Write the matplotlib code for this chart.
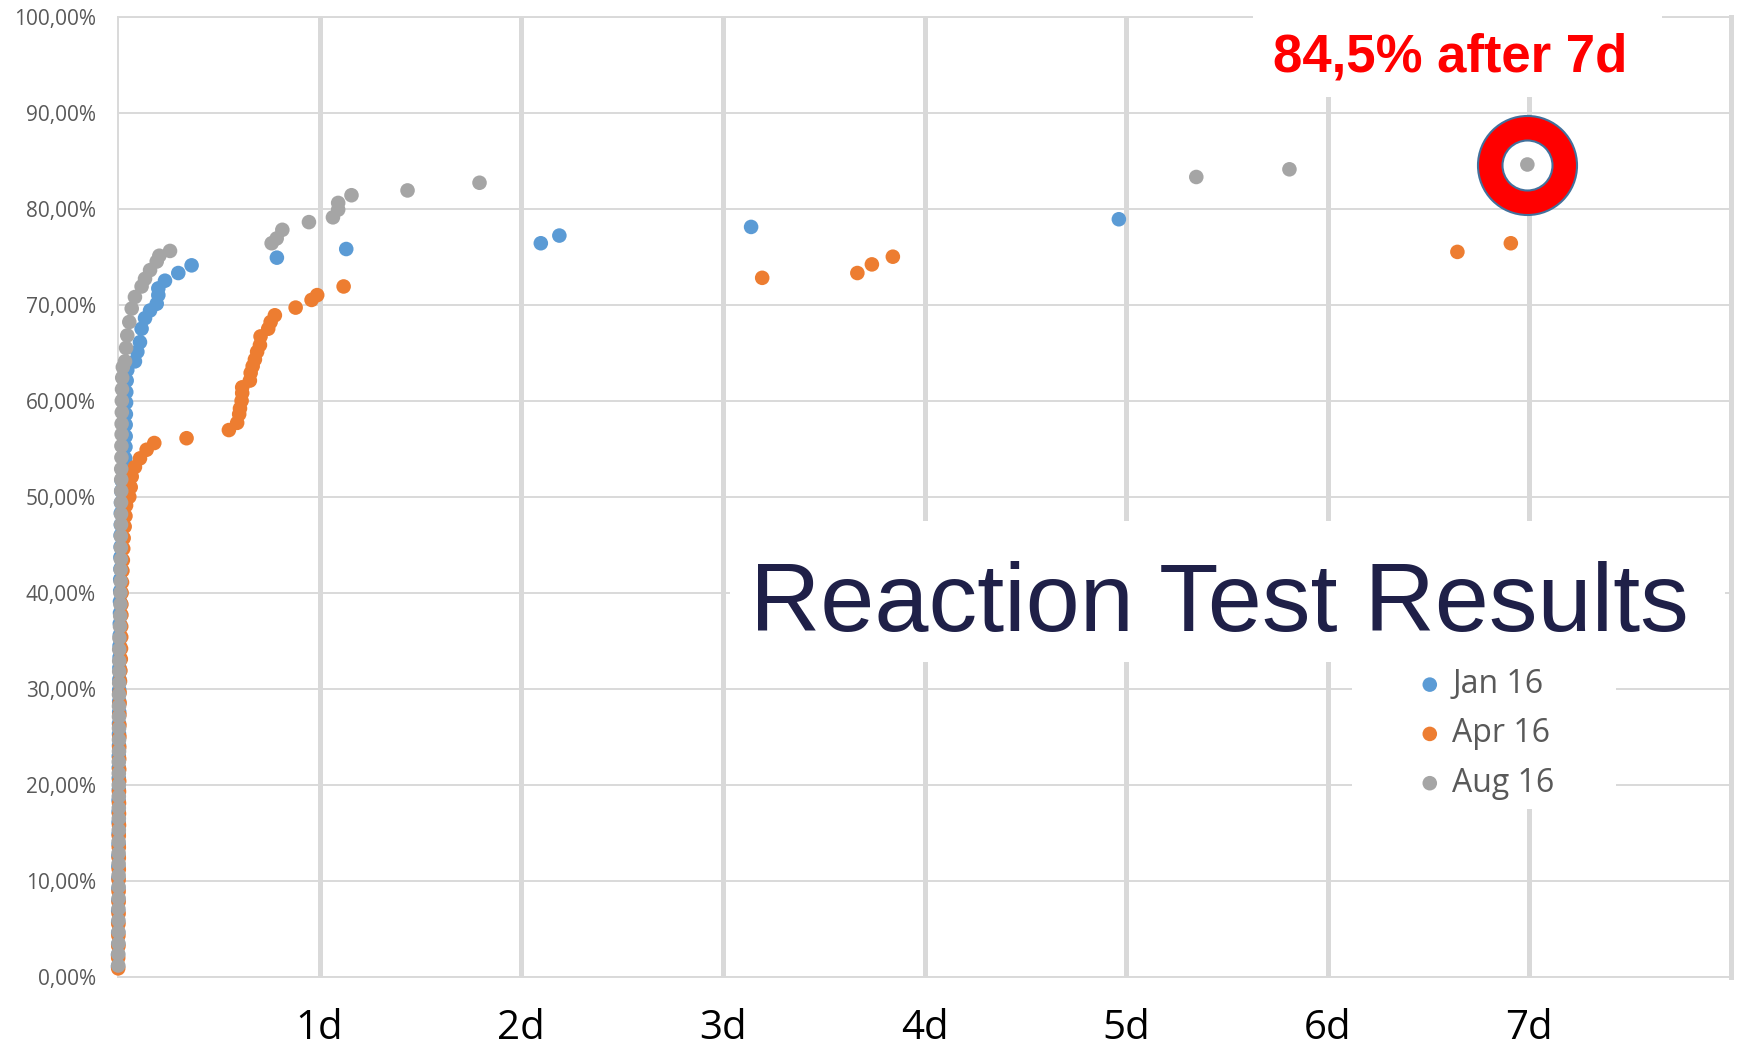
import matplotlib
matplotlib.use('Agg')
import matplotlib.pyplot as plt
from matplotlib.patches import Rectangle

# values: x in days, y in percent
jan_x = [0.000, 0.000, 0.001, 0.001, 0.001, 0.001, 0.002, 0.002, 0.002, 0.002,
         0.002, 0.003, 0.003, 0.003, 0.003, 0.003, 0.004, 0.004, 0.004, 0.004,
         0.005, 0.005, 0.005, 0.006, 0.006, 0.006, 0.007, 0.007, 0.008, 0.008,
         0.009, 0.009, 0.010, 0.010, 0.011, 0.011, 0.012, 0.012, 0.013, 0.013,
         0.014, 0.014, 0.015, 0.016, 0.018, 0.022,
         0.036, 0.037, 0.038, 0.038, 0.039, 0.040, 0.041, 0.043, 0.046,
         0.084, 0.096, 0.109, 0.117, 0.134, 0.159, 0.192, 0.200, 0.200, 0.233, 0.299, 0.365,
         0.788, 1.132, 2.097, 2.189, 3.140, 4.964]
jan_y = [1.1, 2.3, 3.4, 4.6, 5.7, 6.9, 8.0, 9.2, 10.3, 11.5,
         12.6, 13.8, 14.9, 16.1, 17.2, 18.4, 19.5, 20.7, 21.8, 23.0,
         24.1, 25.3, 26.4, 27.6, 28.7, 29.9, 31.0, 32.2, 33.3, 34.5,
         35.6, 36.8, 37.9, 39.1, 40.2, 41.4, 42.5, 43.7, 44.8, 46.0,
         47.1, 48.3, 49.4, 50.6, 51.7, 52.9,
         54.0, 55.2, 56.3, 57.5, 58.6, 59.8, 60.9, 62.1, 63.2,
         64.1, 65.1, 66.1, 67.5, 68.6, 69.4, 70.1, 71.0, 71.7, 72.5, 73.3, 74.1,
         74.9, 75.8, 76.4, 77.2, 78.1, 78.9]

apr_x = [0.001, 0.001, 0.002, 0.002, 0.002, 0.003, 0.003, 0.003, 0.003, 0.004,
         0.004, 0.004, 0.004, 0.005, 0.005, 0.005, 0.005, 0.006, 0.006, 0.006,
         0.006, 0.007, 0.007, 0.007, 0.008, 0.008, 0.010, 0.012, 0.014, 0.015,
         0.016, 0.016, 0.017, 0.017, 0.018, 0.020, 0.022, 0.024, 0.026, 0.028,
         0.033, 0.037, 0.040,
         0.056, 0.063, 0.068, 0.084, 0.109, 0.142, 0.180, 0.340,
         0.550, 0.591, 0.601, 0.605, 0.613, 0.616, 0.616, 0.654, 0.658, 0.668,
         0.679, 0.690, 0.704, 0.707, 0.745, 0.757, 0.778, 0.881, 0.960, 0.988, 1.119,
         3.195, 3.667, 3.739, 3.843, 6.643, 6.908]
apr_y = [0.9, 2.0, 3.2, 4.3, 5.5, 6.6, 7.8, 8.9, 10.1, 11.2,
         12.4, 13.5, 14.7, 15.8, 17.0, 18.1, 19.3, 20.4, 21.6, 22.7,
         23.9, 25.0, 26.2, 27.3, 28.5, 29.6, 30.8, 31.9, 33.1, 34.2,
         35.4, 36.5, 37.7, 38.8, 40.0, 41.1, 42.3, 43.4, 44.6, 45.7,
         46.9, 48.0, 49.1,
         50.0, 51.0, 52.1, 53.1, 54.0, 54.9, 55.6, 56.1,
         56.95, 57.7, 58.6, 59.2, 60.0, 60.8, 61.4, 62.1, 62.9, 63.6,
         64.3, 65.1, 65.8, 66.7, 67.5, 68.2, 68.9, 69.7, 70.5, 71.0, 71.9,
         72.8, 73.3, 74.2, 75.0, 75.5, 76.4]

aug_x = [0.001, 0.001, 0.002, 0.002, 0.002, 0.002, 0.003, 0.003, 0.003, 0.003,
         0.003, 0.003, 0.004, 0.004, 0.004, 0.004, 0.004, 0.004, 0.004, 0.005,
         0.005, 0.005, 0.005, 0.005, 0.005, 0.006, 0.006, 0.006, 0.006, 0.007,
         0.010, 0.011, 0.012, 0.012, 0.013, 0.013, 0.014, 0.014, 0.014, 0.015,
         0.015, 0.015, 0.016, 0.016, 0.016, 0.017, 0.017, 0.018, 0.018, 0.019,
         0.019, 0.020, 0.021, 0.024,
         0.035, 0.040, 0.046, 0.056, 0.068, 0.084, 0.117, 0.134, 0.159, 0.192, 0.205, 0.258,
         0.762, 0.787, 0.815, 0.947, 1.066, 1.092, 1.092, 1.158, 1.436, 1.793, 5.348, 5.810, 6.990]
aug_y = [1.2, 2.4, 3.5, 4.7, 5.9, 7.1, 8.2, 9.4, 10.6, 11.8,
         12.9, 14.1, 15.3, 16.5, 17.6, 18.8, 20.0, 21.2, 22.4, 23.5,
         24.7, 25.9, 27.1, 28.2, 29.4, 30.6, 31.8, 32.9, 34.1, 35.3,
         36.5, 37.6, 38.8, 40.0, 41.2, 42.4, 43.5, 44.7, 45.9, 47.1,
         48.2, 49.4, 50.6, 51.8, 52.9, 54.1, 55.3, 56.5, 57.6, 58.8,
         60.0, 61.2, 62.4, 63.5,
         64.1, 65.5, 66.8, 68.2, 69.6, 70.8, 71.9, 72.7, 73.6, 74.5, 75.1, 75.6,
         76.4, 76.9, 77.8, 78.6, 79.1, 79.9, 80.6, 81.4, 81.9, 82.7, 83.3, 84.1, 84.6]

series_names = ['Jan 16', 'Apr 16', 'Aug 16']
series_colors = ['#5b9bd5', '#ed7d31', '#a5a5a5']
day_ticks = [1, 2, 3, 4, 5, 6, 7]
day_labels = ['1d', '2d', '3d', '4d', '5d', '6d', '7d']
pct_ticks = [0, 10, 20, 30, 40, 50, 60, 70, 80, 90, 100]

W, H = 1738, 1051
fig = plt.figure(figsize=(W / 100, H / 100), dpi=100)
ax = fig.add_axes([118 / W, 1 - 977 / H, (1731 - 118) / W, (977 - 16.6) / H])

grid_c = '#d9d9d9'
for (xs, ys), name, c in zip([(jan_x, jan_y), (apr_x, apr_y), (aug_x, aug_y)],
                             series_names, series_colors):
    ax.scatter(xs, ys, s=110, color=c, edgecolors='none', label=name, zorder=5,
               clip_on=False)

ax.set_xlim(0, 8)
ax.set_ylim(0, 100)
ax.set_xticks(day_ticks)
ax.set_xticklabels(day_labels, fontsize=29, family='Open Sans', color='black')
ax.set_yticks(pct_ticks)
ax.set_yticklabels([('%.2f%%' % v).replace('.', ',') for v in pct_ticks],
                   fontsize=15, family='Open Sans', color='#595959')
ax.tick_params(length=0)
ax.tick_params(axis='y', pad=16)
ax.tick_params(axis='x', pad=23)
ax.set_axisbelow(True)
ax.grid(axis='x', color=grid_c, lw=3.6)
ax.grid(axis='y', color=grid_c, lw=1.4)
for side in ['left', 'top', 'bottom']:
    ax.spines[side].set_color(grid_c)
    ax.spines[side].set_linewidth(1.4)
ax.spines['right'].set_color(grid_c)
ax.spines['right'].set_linewidth(3.6)

# white boxes behind the annotations (they hide the grid)
def white_box(x0, y0, x1, y1):
    ax.add_patch(Rectangle((x0 / W, 1 - y1 / H), (x1 - x0) / W, (y1 - y0) / H,
                           transform=fig.transFigure, facecolor='white',
                           edgecolor='none', zorder=3, clip_on=False))

white_box(1253, 0, 1662, 97)
white_box(730, 521, 1725, 662)
white_box(1352, 662, 1616, 809)

# red ring around the last Aug 16 point
rx, ry = aug_x[-1], aug_y[-1]
ax.plot([rx], [ry], marker='o', ms=53.6, mfc='white', mec='#ff0000', mew=17.6, zorder=4)
ax.plot([rx], [ry], marker='o', ms=71.3, mfc='none', mec='#41719c', mew=1.5, zorder=4)
ax.plot([rx], [ry], marker='o', ms=36, mfc='none', mec='#41719c', mew=1.5, zorder=4)

fig.text(1450 / W, 1 - 72 / H, '84,5% after 7d', color='#ff0000', fontsize=38,
         fontweight='bold', family='Liberation Sans', ha='center', va='baseline', zorder=6)
fig.text(1219 / W, 1 - 631 / H, 'Reaction Test Results', color='#1f2048', fontsize=70,
         family='Liberation Sans', ha='center', va='baseline', zorder=6)

leg = ax.legend(loc='upper left', bbox_to_anchor=(1417 / W, 1 - 668 / H),
                bbox_transform=fig.transFigure, frameon=False, borderpad=0,
                borderaxespad=0, handlelength=0.8, handletextpad=0.3,
                labelspacing=0.51, prop={'family': 'Open Sans', 'size': 23})
for t in leg.get_texts():
    t.set_color('#595959')
leg.set_zorder(6)

fig.savefig('out.png', dpi=100)
